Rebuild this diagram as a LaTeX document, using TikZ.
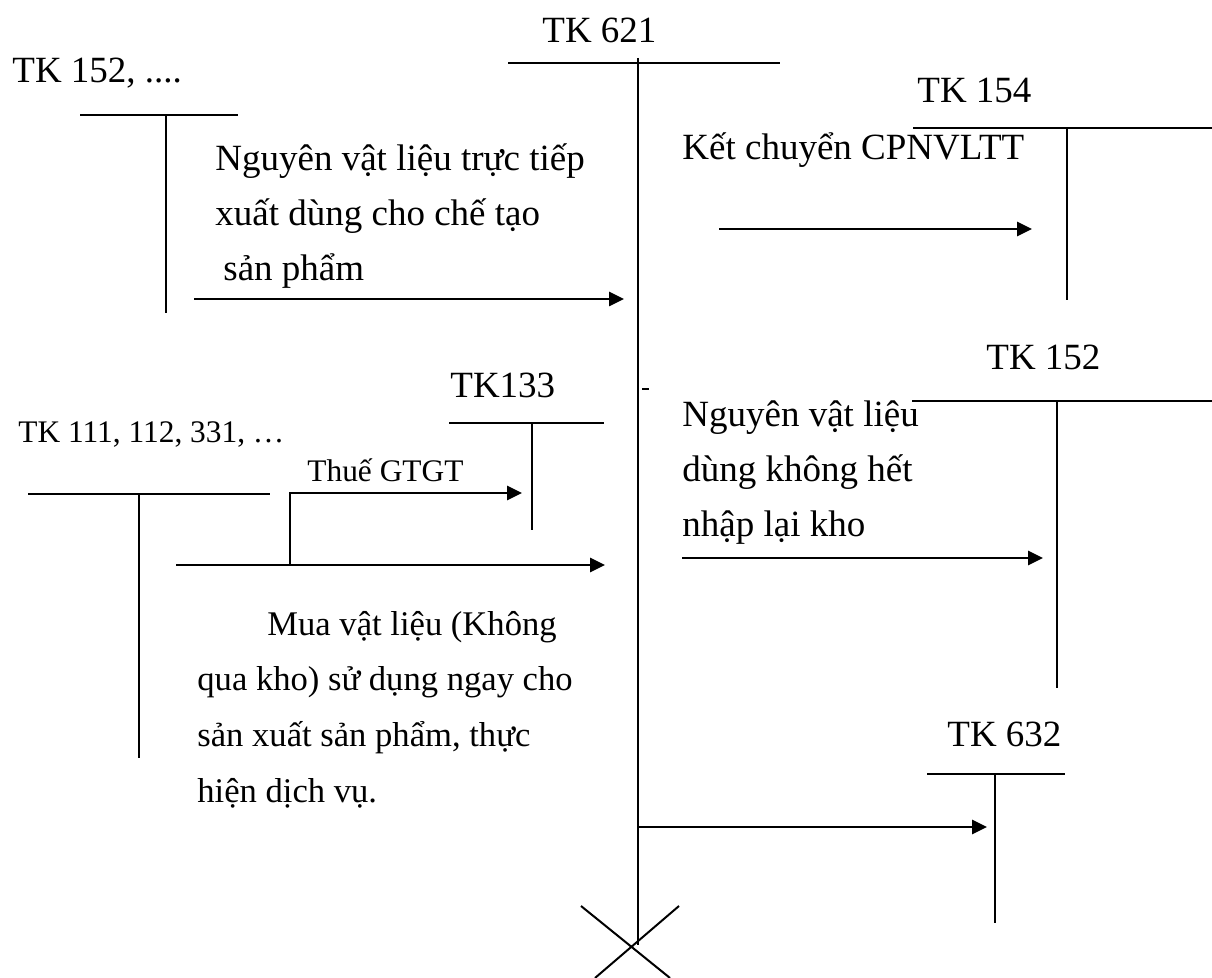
\documentclass[tikz,border=0pt]{standalone}
\usepackage{fontspec}
\setmainfont{Liberation Serif}
\usetikzlibrary{arrows.meta, positioning, calc}

\begin{document}
\begin{tikzpicture}[
        x=0.5pt, y=-0.5pt,
        acct/.style={font=\fontsize{18.5}{22}\selectfont, inner sep=0pt, anchor=base west},
        acctsm/.style={font=\fontsize{15.7}{19}\selectfont, inner sep=0pt, anchor=base west},
        note/.style={font=\fontsize{18.5}{27.5}\selectfont, inner sep=0pt, anchor=base west,
                     align=left},
        tline/.style={line width=1pt},
        flow/.style={-{Triangle[length=7.5pt, width=7pt]}, line width=1.3pt},
    ]
        \useasboundingbox (0,0) rectangle (1212,978);

        % account titles
        \node[acct] (tk621) at (542,43) {TK 621};
        \node[acct] (tk152a) at (12,83) {TK 152, ....};
        \node[acct] (tk154) at (917,103) {TK 154};
        \node[acct] (tk152b) at (986,370) {TK 152};
        \node[acct] (tk133) at (450,398) {TK133};
        \node[acctsm] (tk111) at (18,443) {TK 111, 112, 331, …};
        \node[acct] (tk632) at (947,747) {TK 632};

        % T-accounts
        \coordinate (t621l) at (508,63);  \coordinate (t621r) at (780,63);
        \coordinate (t621t) at (638,58);  \coordinate (t621b) at (638,945);
        \coordinate (t152al) at (80,115); \coordinate (t152ar) at (238,115);
        \coordinate (t152at) at (166,115); \coordinate (t152ab) at (166,313);
        \coordinate (t154l) at (913,128); \coordinate (t154r) at (1212,128);
        \coordinate (t154t) at (1067,128); \coordinate (t154b) at (1067,300);
        \coordinate (t152bl) at (912,401); \coordinate (t152br) at (1212,401);
        \coordinate (t152bt) at (1057,401); \coordinate (t152bb) at (1057,688);
        \coordinate (t133l) at (449,423); \coordinate (t133r) at (604,423);
        \coordinate (t133t) at (532,423); \coordinate (t133b) at (532,530);
        \coordinate (t111l) at (28,494); \coordinate (t111r) at (270,494);
        \coordinate (t111t) at (139,494); \coordinate (t111b) at (139,758);
        \coordinate (t632l) at (927,774); \coordinate (t632r) at (1065,774);
        \coordinate (t632t) at (995,774); \coordinate (t632b) at (995,923);

        \draw[tline] (t621l) -- (t621r) (t621t) -- (t621b);
        \draw[tline] (t152al) -- (t152ar) (t152at) -- (t152ab);
        \draw[tline] (t154l) -- (t154r) (t154t) -- (t154b);
        \draw[tline] (t152bl) -- (t152br) (t152bt) -- (t152bb);
        \draw[tline] (t133l) -- (t133r) (t133t) -- (t133b);
        \draw[tline] (t111l) -- (t111r) (t111t) -- (t111b);
        \draw[tline] (t632l) -- (t632r) (t632t) -- (t632b);

        % closing cross under TK 621
        \coordinate (xa) at (581,906); \coordinate (xb) at (670,978);
        \coordinate (xc) at (679,906); \coordinate (xd) at (595,978);
        \draw[tline] (xa) -- (xb) (xc) -- (xd);
        \coordinate (dsh1) at (642,389); \coordinate (dsh2) at (649,389);
        \draw[line width=0.6pt] (dsh1) -- (dsh2);

        % entries (anchored at the last line)
        \node[note] (nvl) at (215,281)
            {Nguyên vật liệu trực tiếp\\xuất dùng cho chế tạo\\\hspace*{4pt}sản phẩm};
        \node[acct] (kc) at (682,160) {Kết chuyển CPNVLTT};
        \node[acctsm] (gtgt) at (307,482) {Thuế GTGT};
        \node[note] (nhap) at (682,537)
            {Nguyên vật liệu\\dùng không hết\\nhập lại kho};
        \node[note, font=\fontsize{17.3}{28}\selectfont] (mua) at (197,803)
            {\hspace*{35pt}Mua vật liệu (Không\\qua kho) sử dụng ngay cho\\sản xuất sản phẩm, thực\\hiện dịch vụ.};

        \coordinate (s1) at (194,299);  \coordinate (e1) at (624,299);
        \coordinate (s2) at (719,229);  \coordinate (e2) at (1032,229);
        \coordinate (s3) at (176,565);  \coordinate (e3) at (605,565);
        \coordinate (s4) at (290,565);  \coordinate (e4) at (522,493);
        \coordinate (s5) at (682,558);  \coordinate (e5) at (1043,558);
        \coordinate (s6) at (638,827);  \coordinate (e6) at (987,827);

        \draw[flow] (s1) -- (e1);
        \draw[flow] (s2) -- (e2);
        \draw[flow] (s3) -- (e3);
        \draw[flow] (s4) |- (e4);
        \draw[flow] (s5) -- (e5);
        \draw[flow] (s6) -- (e6);
    \end{tikzpicture}
\end{document}
